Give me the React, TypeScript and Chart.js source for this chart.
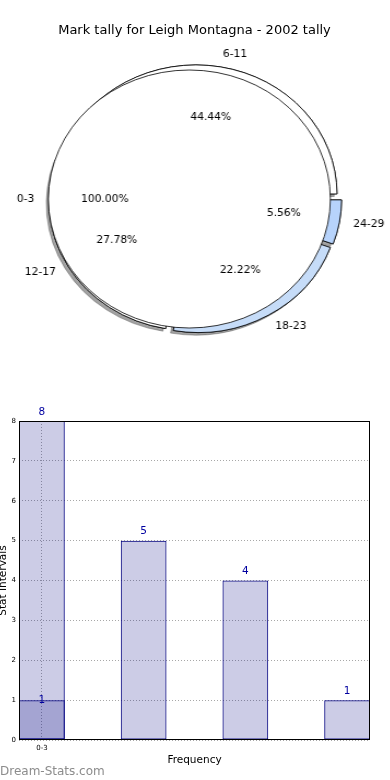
import React, { useEffect, useRef } from 'react';
import { Chart, registerables } from 'chart.js';

Chart.register(...registerables);

// ---------- data ----------
const chartTitle = 'Mark tally for Leigh Montagna - 2002 tally';

const baseCategories = ['0-3'];
const baseValues = [1];
const baseColors = ['#ffffff'];

const sliceCategories = ['6-11', '12-17', '18-23', '24-29'];
const sliceValues = [8, 5, 4, 1];
const sliceColors = ['#ffffff', '#ffffff', '#c6dcf8', '#b7d3fb'];

const barPositions = [0, 1, 2, 3];
const barValues = [8, 5, 4, 1];
const overlayPositions = [0];
const overlayValues = [1];
const xTickPositions = [0];
const xTickLabels = ['0-3'];
const yTickValues = [0, 1, 2, 3, 4, 5, 6, 7, 8];
const xAxisTitle = 'Frequency';
const yAxisTitle = 'Stat Intervals';
const watermark = 'Dream-Stats.com';

// ---------- style ----------
const FONT = "'DejaVu Sans', sans-serif";
const SX = 141 / 129; // horizontal stretch of the pie (ellipse)
const PIE_W = 380;
const PIE_H = 400;
const PIE_R = 129;
const EXPLODE = 0.04;
const SHADOW = 0.02;

const explodePlugin = {
  id: 'explodeDraw',
  beforeDatasetDraw(chart: any, args: any) {
    const ctx = chart.ctx;
    const meta = args.meta;
    const ds = chart.data.datasets[args.index];
    const passes = ds.shadow ? [true, false] : [false];
    for (const sh of passes) {
      meta.data.forEach((arc: any) => {
        const p = arc.getProps(['x', 'y', 'startAngle', 'endAngle', 'outerRadius']);
        const mid = (p.startAngle + p.endAngle) / 2;
        const d = ds.explode * p.outerRadius;
        ctx.save();
        ctx.translate(Math.cos(mid) * d, Math.sin(mid) * d);
        if (sh) {
          ctx.shadowColor = 'rgba(70,70,70,0.5)';
          ctx.shadowBlur = 0;
          ctx.shadowOffsetX = -SHADOW * p.outerRadius;
          ctx.shadowOffsetY = SHADOW * p.outerRadius;
        }
        arc.draw(ctx);
        if (ds.outline) {
          ctx.beginPath();
          ctx.arc(p.x, p.y, p.outerRadius, 0, Math.PI * 2);
          ctx.lineWidth = 0.8;
          ctx.strokeStyle = '#000';
          ctx.stroke();
        }
        ctx.restore();
      });
    }
    return false;
  },
};

function drawStretchedText(ctx: CanvasRenderingContext2D, text: string, x: number, y: number, align: CanvasTextAlign) {
  ctx.save();
  ctx.translate(x, y);
  ctx.scale(1 / SX, 1);
  ctx.textAlign = align;
  ctx.textBaseline = 'middle';
  ctx.fillText(text, 0, 0);
  ctx.restore();
}

function drawPieLabels(ctx: CanvasRenderingContext2D, src: any) {
  const ds = src.data.datasets[0];
  const meta = src.getDatasetMeta(0);
  const total = ds.data.reduce((a: number, b: number) => a + b, 0);
  ctx.save();
  ctx.fillStyle = '#000';
  ctx.font = `10.7px ${FONT}`;
  meta.data.forEach((arc: any, i: number) => {
    const p = arc.getProps(['x', 'y', 'startAngle', 'endAngle', 'outerRadius']);
    const mid = (p.startAngle + p.endAngle) / 2;
    const R = p.outerRadius;
    const c = Math.cos(mid);
    const s = Math.sin(mid);
    const cx = p.x + c * ds.explode * R;
    const cy = p.y + s * ds.explode * R;
    const lbl = src.data.labels[i];
    drawStretchedText(ctx, lbl, cx + c * 1.1 * R, cy + s * 1.1 * R, c > 0 ? 'left' : 'right');
    const pct = ((ds.data[i] / total) * 100).toFixed(2) + '%';
    drawStretchedText(ctx, pct, cx + c * 0.6 * R, cy + s * 0.6 * R, 'center');
  });
  ctx.restore();
}

// labels are drawn on the top-most canvas, for this chart and the ones underneath
function makeLabelPlugin(under: any[]) {
  return {
    id: 'pieLabels',
    afterDatasetsDraw(chart: any) {
      [...under, chart].forEach((src) => drawPieLabels(chart.ctx, src));
    },
  };
}

function pieConfig(labels: string[], values: number[], colors: string[], outline: boolean, shadow: boolean, extraPlugins: any[]): any {
  // matplotlib draws counter-clockwise from east; Chart.js draws clockwise, so reverse
  const idx = labels.map((_, i) => labels.length - 1 - i);
  return {
    type: 'pie',
    data: {
      labels: idx.map((i) => labels[i]),
      datasets: [
        {
          data: idx.map((i) => values[i]),
          backgroundColor: idx.map((i) => colors[i]),
          borderColor: '#000',
          borderWidth: outline ? 0 : 0.8,
          explode: EXPLODE,
          outline,
          shadow,
        },
      ],
    },
    options: {
      animation: false,
      responsive: false,
      rotation: 90,
      radius: PIE_R,
      events: [],
      plugins: { legend: { display: false }, tooltip: { enabled: false } },
    },
    plugins: [explodePlugin, ...extraPlugins],
  };
}

const framePlugin = {
  id: 'frame',
  afterDraw(chart: any) {
    const { left, top, right, bottom } = chart.chartArea;
    const ctx = chart.ctx;
    ctx.save();
    ctx.strokeStyle = '#000';
    ctx.lineWidth = 1;
    const l = Math.round(left) + 0.5;
    const t = Math.round(top) + 0.5;
    const r = Math.round(right) - 0.5;
    const b = Math.round(bottom) - 0.5;
    ctx.strokeRect(l, t, r - l, b - t);
    ctx.restore();
  },
};

const barLabelPlugin = {
  id: 'barLabels',
  afterDatasetsDraw(chart: any) {
    const ctx = chart.ctx;
    ctx.save();
    ctx.fillStyle = '#0000a0';
    ctx.font = `10.5px ${FONT}`;
    ctx.textAlign = 'center';
    ctx.textBaseline = 'middle';
    chart.data.datasets.forEach((ds: any, di: number) => {
      const meta = chart.getDatasetMeta(di);
      meta.data.forEach((bar: any, i: number) => {
        ctx.fillText(String(ds.data[i].y), bar.x, bar.y - ds.labelOffset);
      });
    });
    ctx.restore();
  },
};

const tickFont = { family: FONT, size: 7 };
const titleFont = { family: FONT, size: 10.5 };

function barConfig(): any {
  const barStyle = {
    backgroundColor: 'rgba(0,0,128,0.2)',
    borderColor: '#000080',
    borderWidth: 1,
    borderSkipped: false,
    grouped: false,
    barPercentage: 0.45,
    categoryPercentage: 1,
  };
  return {
    type: 'bar',
    data: {
      datasets: [
        {
          ...barStyle,
          data: overlayPositions.map((x, i) => ({ x, y: overlayValues[i] })),
          order: 0,
          labelOffset: 0,
        },
        {
          ...barStyle,
          data: barPositions.map((x, i) => ({ x, y: barValues[i] })),
          order: 1,
          labelOffset: 9,
        },
      ],
    },
    options: {
      animation: false,
      responsive: false,
      events: [],
      layout: { padding: { top: 31, right: 20, left: 0, bottom: 0 } },
      plugins: { legend: { display: false }, tooltip: { enabled: false } },
      scales: {
        x: {
          type: 'linear',
          min: -0.225,
          max: 3.225,
          offset: false,
          afterFit: (s: any) => {
            s.height = 40;
          },
          afterBuildTicks: (s: any) => {
            s.ticks = xTickPositions.map((v) => ({ value: v }));
          },
          ticks: {
            callback: (v: any) => {
              const k = xTickPositions.indexOf(Number(v));
              return k >= 0 ? xTickLabels[k] : '';
            },
            font: tickFont,
            color: '#000',
            padding: 4,
            maxRotation: 0,
            autoSkip: false,
          },
          grid: { color: '#a8a8a8', drawTicks: false, offset: false, lineWidth: 1 },
          border: { display: false, dash: [1, 2] },
          title: {
            display: true,
            text: xAxisTitle,
            font: titleFont,
            color: '#000',
            padding: { top: 0, bottom: 13.7 },
          },
        },
        y: {
          type: 'linear',
          min: 0,
          max: 8,
          afterFit: (s: any) => {
            s.width = 19;
          },
          afterBuildTicks: (s: any) => {
            s.ticks = yTickValues.map((v) => ({ value: v }));
          },
          ticks: { font: tickFont, color: '#000', padding: 3 },
          grid: { color: '#a8a8a8', drawTicks: false, lineWidth: 1 },
          border: { display: false, dash: [1, 2] },
          title: {
            display: true,
            text: yAxisTitle,
            font: { ...titleFont, lineHeight: 0.7 },
            color: '#000',
            padding: 0,
          },
        },
      },
    },
    plugins: [framePlugin, barLabelPlugin],
  };
}

export default function App() {
  const sliceRef = useRef<HTMLCanvasElement>(null);
  const baseRef = useRef<HTMLCanvasElement>(null);
  const barRef = useRef<HTMLCanvasElement>(null);

  useEffect(() => {
    const charts: Chart[] = [];
    let sliceChart: any = null;
    if (sliceRef.current) {
      sliceChart = new Chart(sliceRef.current, pieConfig(sliceCategories, sliceValues, sliceColors, false, true, []));
      charts.push(sliceChart);
    }
    if (baseRef.current)
      charts.push(
        new Chart(
          baseRef.current,
          pieConfig(baseCategories, baseValues, baseColors, true, false, [makeLabelPlugin(sliceChart ? [sliceChart] : [])])
        )
      );
    if (barRef.current) charts.push(new Chart(barRef.current, barConfig()));
    return () => charts.forEach((c) => c.destroy());
  }, []);

  const pieStyle: React.CSSProperties = {
    position: 'absolute',
    left: 194.6 - PIE_W / 2,
    top: 199 - PIE_H / 2,
    width: PIE_W,
    height: PIE_H,
    transform: `scaleX(${SX})`,
    transformOrigin: `${PIE_W / 2}px ${PIE_H / 2}px`,
  };

  return (
    <div
      style={{
        position: 'absolute',
        left: 0,
        top: 0,
        width: 390,
        height: 780,
        background: '#fff',
        overflow: 'hidden',
        fontFamily: FONT,
      }}
    >
      <canvas ref={sliceRef} width={PIE_W} height={PIE_H} style={pieStyle} />
      <canvas ref={baseRef} width={PIE_W} height={PIE_H} style={pieStyle} />
      <div
        style={{
          position: 'absolute',
          left: 0,
          top: 20,
          width: 389,
          height: 20,
          lineHeight: '20px',
          fontSize: 13,
          textAlign: 'center',
          color: '#000',
          whiteSpace: 'nowrap',
        }}
      >
        {chartTitle}
      </div>
      <canvas
        ref={barRef}
        width={390}
        height={390}
        style={{ position: 'absolute', left: 0, top: 390, width: 390, height: 390 }}
      />
      <div
        style={{
          position: 'absolute',
          left: 0,
          top: 763,
          height: 16,
          lineHeight: '16px',
          fontSize: 12,
          color: '#8c8c8c',
          whiteSpace: 'nowrap',
        }}
      >
        {watermark}
      </div>
    </div>
  );
}
